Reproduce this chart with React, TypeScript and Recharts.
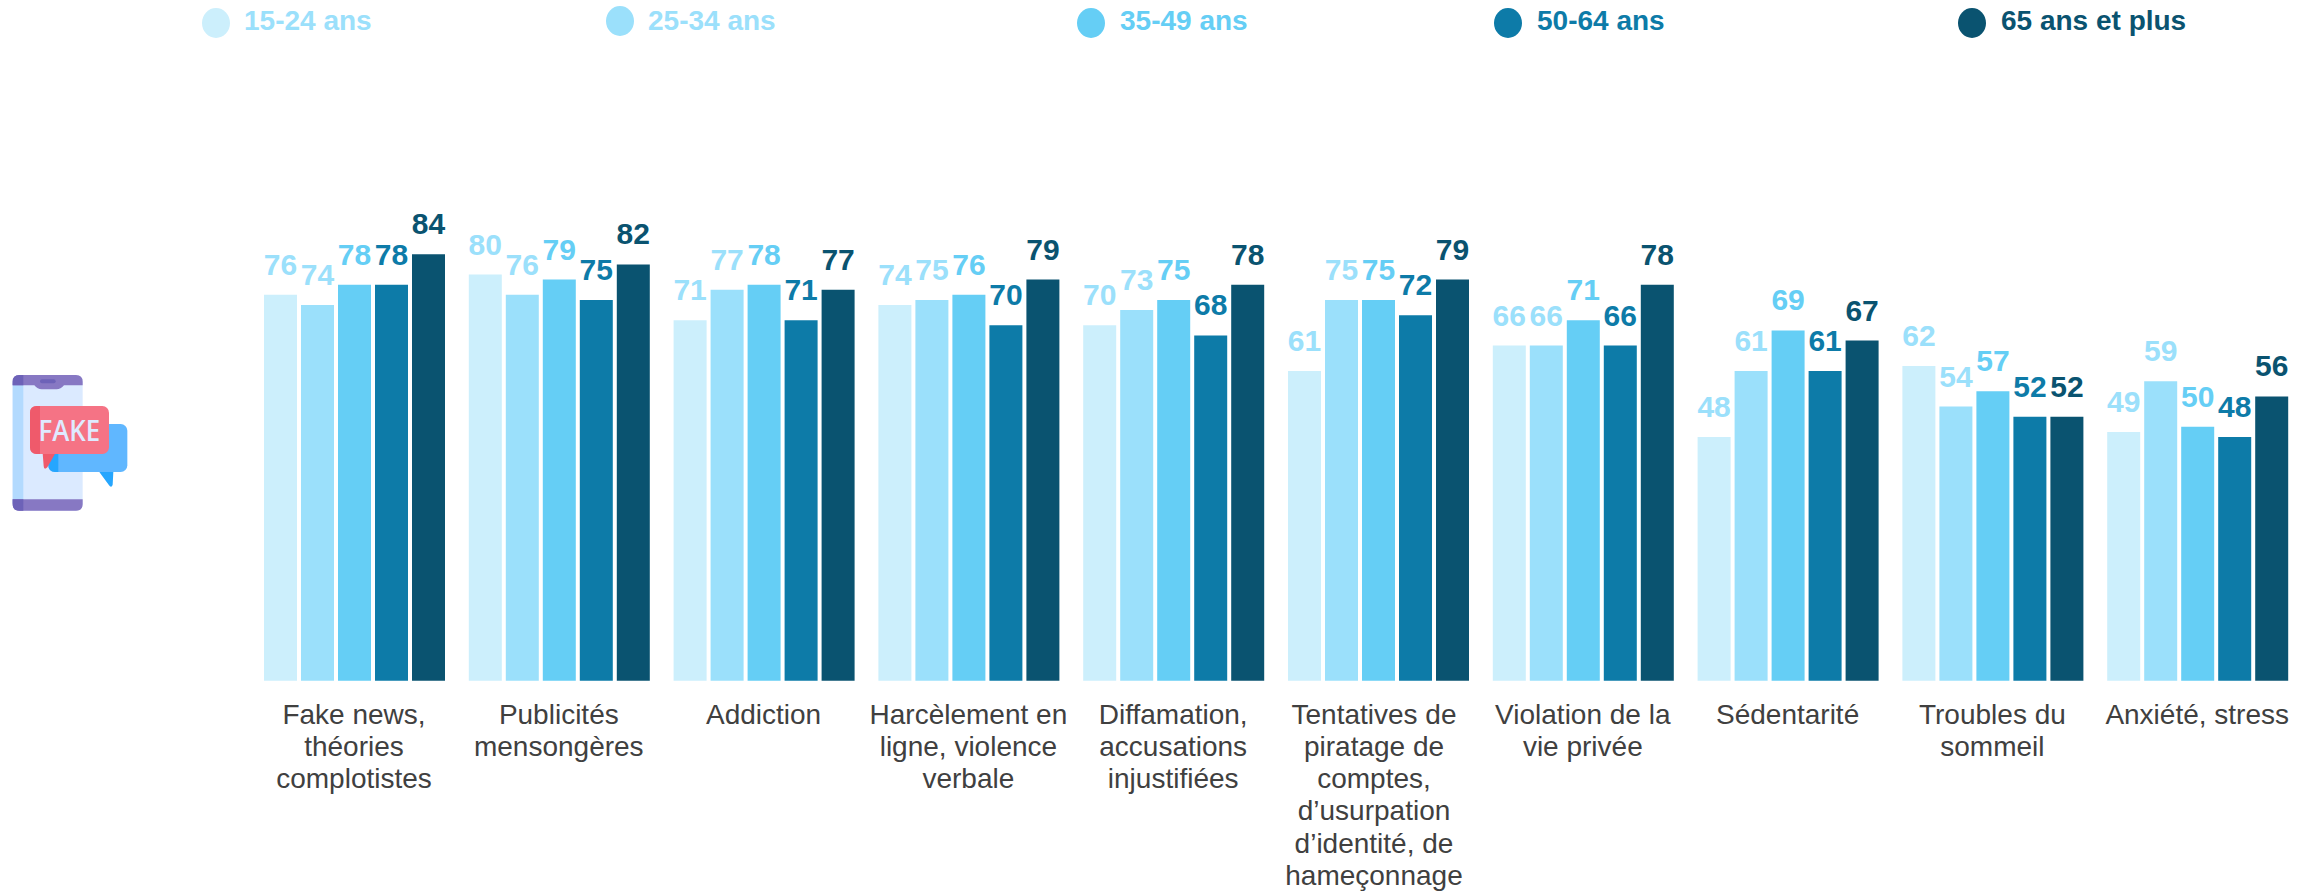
import { BarChart, Bar, XAxis, YAxis, Legend, LabelList } from "recharts";

const categories = [
  "Fake news,\nthéories\ncomplotistes",
  "Publicités\nmensongères",
  "Addiction",
  "Harcèlement en\nligne, violence\nverbale",
  "Diffamation,\naccusations\ninjustifiées",
  "Tentatives de\npiratage de\ncomptes,\nd’usurpation\nd’identité, de\nhameçonnage",
  "Violation de la\nvie privée",
  "Sédentarité",
  "Troubles du\nsommeil",
  "Anxiété, stress",
];

const ages15 = [76, 80, 71, 74, 70, 61, 66, 48, 62, 49];
const ages25 = [74, 76, 77, 75, 73, 75, 66, 61, 54, 59];
const ages35 = [78, 79, 78, 76, 75, 75, 71, 69, 57, 50];
const ages50 = [78, 75, 71, 70, 68, 72, 66, 61, 52, 48];
const ages65 = [84, 82, 77, 79, 78, 79, 78, 67, 52, 56];

const seriesNames = ["15-24 ans", "25-34 ans", "35-49 ans", "50-64 ans", "65 ans et plus"];
const seriesValues = [ages15, ages25, ages35, ages50, ages65];
const barColors = ["#CCEFFC", "#9BE0FB", "#65CEF5", "#0D7BA8", "#0A5370"];
const textColors = ["#9BE0FB", "#9BE0FB", "#65CEF5", "#0D7BA8", "#0A5370"];

// legend placement, the items are not evenly spaced in the original
const legendDotX = [216, 619.5, 1091, 1507.5, 1972];
const legendDotY = [22.5, 20.5, 23, 22.5, 23];
const legendTextX = [244, 648, 1120, 1537, 2001];

const data = categories.map((category, i) => {
  const row: Record<string, string | number> = { category };
  seriesNames.forEach((name, s) => {
    row[name] = seriesValues[s][i];
  });
  return row;
});

const FONT = '"Liberation Sans", Arial, sans-serif';

function CategoryTick({ x, y, payload }: any) {
  const lines = String(payload.value).split("\n");
  // the long six line label sits a little left of its bars in the original
  const tx = lines.length > 3 ? x - 4 : x;
  return (
    <text x={tx} y={y + 43} textAnchor="middle" fontFamily={FONT} fontSize={28} fill="#404040">
      {lines.map((line, i) => (
        <tspan key={line} x={tx} dy={i === 0 ? 0 : 32.2}>
          {line}
        </tspan>
      ))}
    </text>
  );
}

function AgeLegend({ payload }: any) {
  return (
    <div style={{ position: "relative", height: 0 }}>
      {(payload ?? []).map((entry: any, i: number) => (
        <div key={entry.value}>
          <div
            style={{
              position: "absolute",
              left: legendDotX[i] - 14,
              top: legendDotY[i] - 15,
              width: 28,
              height: 30,
              borderRadius: "50%",
              background: entry.color,
            }}
          />
          <div
            style={{
              position: "absolute",
              left: legendTextX[i],
              top: 5,
              lineHeight: "32px",
              whiteSpace: "nowrap",
              fontFamily: FONT,
              fontWeight: 700,
              fontSize: 28,
              color: textColors[i],
            }}
          >
            {entry.value}
          </div>
        </div>
      ))}
    </div>
  );
}

function FakeIcon() {
  return (
    <svg
      width={150}
      height={170}
      viewBox="0 0 450 510"
      style={{ position: "absolute", left: 0, top: 360 }}
    >
      <rect x={38} y={45} width={210} height={407} rx={20} fill="#DBEAFF" />
      <rect x={38} y={70} width={32} height={360} fill="#B3DAFE" />
      <path
        d="M58 45 H228 Q248 45 248 65 V76 H192 Q182 88 170 88 H125 Q113 88 103 76 H38 V65 Q38 45 58 45 Z"
        fill="#8778C3"
      />
      <path d="M58 45 H70 V76 H38 V65 Q38 45 58 45 Z" fill="#6D62B8" />
      <rect x={120} y={58} width={47} height={12} rx={6} fill="#6D62B8" />
      <path d="M38 418 H248 V432 Q248 452 228 452 H58 Q38 452 38 432 Z" fill="#8778C3" />
      <path d="M38 418 H70 V452 H58 Q38 452 38 432 Z" fill="#6D62B8" />
      <rect x={145} y={192} width={237} height={144} rx={20} fill="#60B7FF" />
      <path d="M145 280 H175 V336 H165 Q145 336 145 316 Z" fill="#26A6FE" />
      <path d="M298 336 H340 L338 374 Q334 386 326 374 Z" fill="#26A6FE" />
      <path d="M128 280 H166 L142 322 Q132 332 131 318 Z" fill="#EF5A6B" />
      <rect x={90} y={138} width={237} height={144} rx={20} fill="#F57385" />
      <path d="M110 138 H120 V282 H110 Q90 282 90 262 V158 Q90 138 110 138 Z" fill="#EF5A6B" />
      <text
        x={208}
        y={242}
        textAnchor="middle"
        textLength={185}
        lengthAdjust="spacingAndGlyphs"
        fontFamily='"Open Sans", sans-serif'
        fontWeight={600}
        fontSize={88}
        fill="#DFEAFF"
      >
        FAKE
      </text>
    </svg>
  );
}

export default function App() {
  return (
    <div style={{ position: "absolute", left: 0, top: 0, width: 2313, height: 893 }}>
      <BarChart
        width={2313}
        height={893}
        data={data}
        margin={{ top: 173, right: 13.4, bottom: 0, left: 251.6 }}
        barCategoryGap={12.4}
        barGap={4}
      >
        <XAxis
          dataKey="category"
          interval={0}
          height={212.3}
          axisLine={false}
          tickLine={false}
          tickSize={0}
          tickMargin={0}
          tick={<CategoryTick />}
        />
        <YAxis hide domain={[0, 100]} />
        <Legend
          content={<AgeLegend />}
          wrapperStyle={{ left: 0, top: 0, width: 2313, height: 0 }}
        />
        {seriesNames.map((name, i) => (
          <Bar key={name} dataKey={name} name={name} fill={barColors[i]} isAnimationActive={false}>
            <LabelList
              dataKey={name}
              position="top"
              offset={20}
              fill={textColors[i]}
              fontFamily={FONT}
              fontWeight={700}
              fontSize={30}
            />
          </Bar>
        ))}
      </BarChart>
      <FakeIcon />
    </div>
  );
}
